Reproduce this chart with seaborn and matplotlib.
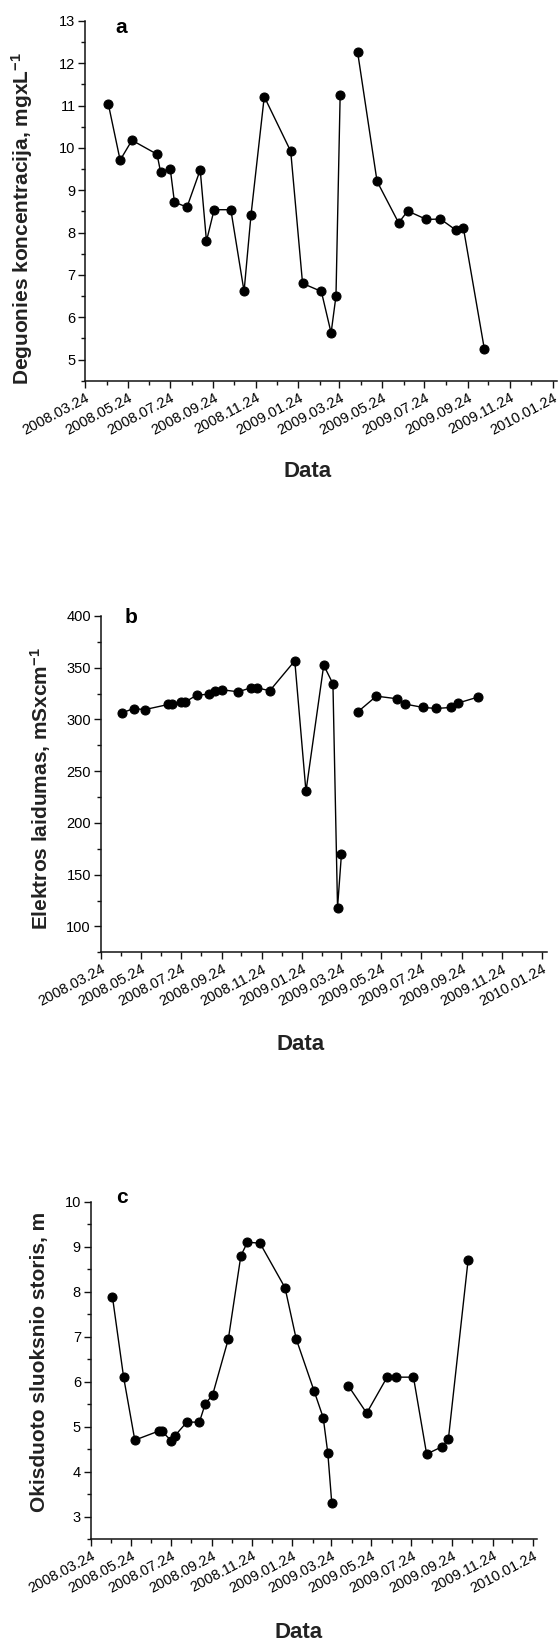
import pandas as pd, numpy as np
import matplotlib
matplotlib.use('Agg')
import matplotlib.pyplot as plt
import matplotlib.dates as mdates
from matplotlib.ticker import MultipleLocator
import seaborn as sns

# sampling dates (same for all three panels), gap after 2009-03-25
dates = ['2008-04-26','2008-05-13','2008-05-30','2008-07-05','2008-07-10','2008-07-24',
         '2008-07-30','2008-08-17','2008-09-05','2008-09-14','2008-09-25','2008-10-19',
         '2008-11-07','2008-11-17','2008-12-06','2009-01-13','2009-01-30','2009-02-26',
         '2009-03-12','2009-03-19','2009-03-25',
         '2009-04-19','2009-05-17','2009-06-17','2009-06-30','2009-07-27','2009-08-16',
         '2009-09-08','2009-09-18','2009-10-18']
segment = [0]*21 + [1]*9

oxygen = [11.04,9.71,10.18,9.85,9.44,9.50,8.72,8.60,9.48,7.80,8.54,8.54,6.61,8.42,11.21,
          9.92,6.80,6.61,5.63,6.50,11.24,
          12.27,9.21,8.23,8.51,8.31,8.32,8.05,8.11,5.26]
conduct = [306.5,310.5,309.5,314.5,314.5,316.7,316.7,323.5,324.4,327.3,328.6,326.7,330.5,330.5,327.7,
           356.6,230.5,352.4,334.4,118.3,170.4,
           307.4,322.5,320.0,314.8,311.6,310.6,311.6,315.8,321.5]
thick = [7.89,6.10,4.70,4.90,4.90,4.69,4.80,5.10,5.10,5.51,5.70,6.95,8.80,9.10,9.08,
         8.09,6.95,5.80,5.20,4.41,3.30,
         5.91,5.30,6.10,6.10,6.10,4.39,4.55,4.72,8.71]

tick_dates = ['2008-03-24','2008-05-24','2008-07-24','2008-09-24','2008-11-24','2009-01-24',
              '2009-03-24','2009-05-24','2009-07-24','2009-09-24','2009-11-24','2010-01-24']
minor_dates = ['2008-04-24','2008-06-24','2008-08-24','2008-10-24','2008-12-24','2009-02-24',
               '2009-04-24','2009-06-24','2009-08-24','2009-10-24','2009-12-24']

df = pd.DataFrame({'date': pd.to_datetime(dates), 'seg': segment,
                   'oxygen': oxygen, 'conduct': conduct, 'thick': thick})

sns.set_theme(style='ticks')
plt.rcParams['font.family'] = ['Liberation Sans', 'DejaVu Sans']
plt.rcParams['mathtext.default'] = 'regular'
TXT = '#222222'

fig = plt.figure(figsize=(5.58, 16.42), dpi=100)
panels = [
    # col, ylabel, rect, ylim, major, minor, letter pos, xlabel pos, ylabel pos
    ('oxygen', 'Deguonies koncentracija, mgxL$^{-1}$', [0.1529, 0.7681, 0.846, 0.2192],
     (4.5, 13), 1, 0.5, 'a', (0.076, 0.982), (0.47, -0.252), (-0.135, 0.45)),
    ('conduct', 'Elektros laidumas, mSxcm$^{-1}$', [0.1805, 0.4200, 0.7993, 0.2049],
     (75, 400), 50, 25, 'b', (0.068, 0.995), (0.449, -0.275), (-0.136, 0.488)),
    ('thick', 'Okisduoto sluoksnio storis, m', [0.1625, 0.0627, 0.8004, 0.2054],
     (2.5, 10), 1, 0.5, 'c', (0.07, 1.012), (0.466, -0.278), (-0.115, 0.525)),
]
x0 = pd.Timestamp('2008-03-24')
for col, ylab, rect, ylim, maj, mnr, letter, lpos, xlpos, ylpos in panels:
    ax = fig.add_axes(rect)
    sns.lineplot(data=df, x='date', y=col, units='seg', estimator=None, ax=ax,
                 color='black', lw=1, marker='o', markersize=6.5, markeredgecolor='black',
                 legend=False)
    ax.set_xlim(x0, x0 + pd.Timedelta(days=678))
    ax.set_ylim(*ylim)
    ax.yaxis.set_major_locator(MultipleLocator(maj))
    ax.yaxis.set_minor_locator(MultipleLocator(mnr))
    ax.set_xticks(pd.to_datetime(tick_dates))
    ax.set_xticks(pd.to_datetime(minor_dates), minor=True)
    ax.xaxis.set_major_formatter(mdates.DateFormatter('%Y.%m.%d'))
    for t in ax.get_xticklabels():
        t.set_rotation(28); t.set_ha('right'); t.set_rotation_mode('anchor')
        t.set_fontsize(10.5)
    sns.despine(ax=ax)
    for sp in ('left', 'bottom'):
        ax.spines[sp].set_linewidth(1.1); ax.spines[sp].set_color('#111111')
    ax.tick_params(which='major', length=5, width=1, color='#111111', labelcolor='black', pad=2)
    ax.tick_params(axis='y', labelsize=10.5)
    ax.tick_params(which='minor', length=3, width=1, color='#111111')
    ax.set_ylabel(ylab, fontsize=15, fontweight='bold', color=TXT)
    ax.yaxis.set_label_coords(*ylpos)
    ax.yaxis.label.set_va('center')
    ax.set_xlabel('Data', fontsize=16, fontweight='bold', color=TXT)
    ax.xaxis.set_label_coords(*xlpos)
    ax.xaxis.label.set_va('center')
    ax.text(lpos[0], lpos[1], letter, transform=ax.transAxes, fontsize=15,
            fontweight='bold', ha='center', va='center', color='black')

fig.savefig('out.png', dpi=100)
